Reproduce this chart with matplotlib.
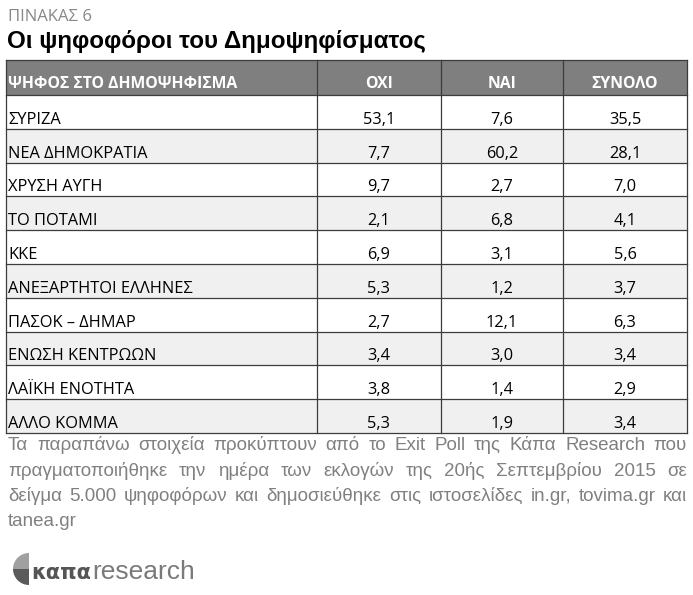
import matplotlib
matplotlib.use("Agg")
import matplotlib.pyplot as plt
from matplotlib.patches import Rectangle, Wedge

parties = ["ΣΥΡΙΖΑ", "ΝΕΑ ΔΗΜΟΚΡΑΤΙΑ", "ΧΡΥΣΗ ΑΥΓΗ", "ΤΟ ΠΟΤΑΜΙ", "ΚΚΕ",
           "ΑΝΕΞΑΡΤΗΤΟΙ ΕΛΛΗΝΕΣ", "ΠΑΣΟΚ – ΔΗΜΑΡ", "ΕΝΩΣΗ ΚΕΝΤΡΩΩΝ",
           "ΛΑΪΚΗ ΕΝΟΤΗΤΑ", "ΑΛΛΟ ΚΟΜΜΑ"]
oxi = [53.1, 7.7, 9.7, 2.1, 6.9, 5.3, 2.7, 3.4, 3.8, 5.3]
nai = [7.6, 60.2, 2.7, 6.8, 3.1, 1.2, 12.1, 3.0, 1.4, 1.9]
synolo = [35.5, 28.1, 7.0, 4.1, 5.6, 3.7, 6.3, 3.4, 2.9, 3.4]
headers = ["ΨΗΦΟΣ ΣΤΟ ΔΗΜΟΨΗΦΙΣΜΑ", "ΟΧΙ", "ΝΑΙ", "ΣΥΝΟΛΟ"]

note_lines = [
    "Τα παραπάνω στοιχεία προκύπτουν από το Exit Poll της Κάπα Research που",
    "πραγματοποιήθηκε την ημέρα των εκλογών της 20ής Σεπτεμβρίου 2015 σε",
    "δείγμα 5.000 ψηφοφόρων και δημοσιεύθηκε στις ιστοσελίδες in.gr, tovima.gr και",
    "tanea.gr",
]

W, H = 693, 595
fig = plt.figure(figsize=(W / 100, H / 100), dpi=100)
ax = fig.add_axes([0, 0, 1, 1])
ax.set_xlim(0, W)
ax.set_ylim(H, 0)
ax.axis("off")

TAB = ["Open Sans", "DejaVu Sans"]
ARIAL = ["Liberation Sans", "DejaVu Sans"]
GREY_TXT = "#808080"

# titles
ax.text(8, 21, "ΠΙΝΑΚΑΣ 6", family=TAB, fontsize=12, color="#888888", va="baseline")
ax.text(7, 48, "Οι ψηφοφόροι του Δημοψηφίσματος", family=ARIAL, fontsize=17.4,
        fontweight="bold", color="black", va="baseline")

# table
cols = [6, 317, 441, 563, 687]
top, head_h, row_h = 60, 35, 33.8
line_c = "#3c3c3c"

ax.add_patch(Rectangle((cols[0], top), cols[-1] - cols[0], head_h,
                       facecolor="#7f7f7f", edgecolor="none"))
for j, h in enumerate(headers):
    if j == 0:
        ax.text(8, top + head_h - 7.5, h, family=TAB, fontsize=11.3, fontweight="bold",
                color="white", va="baseline", ha="left")
    else:
        ax.text((cols[j] + cols[j + 1]) / 2, top + head_h - 7.5, h, family=TAB,
                fontsize=11.3, fontweight="bold", color="white", va="baseline", ha="center")

y0 = top + head_h
for i, p in enumerate(parties):
    ry = y0 + i * row_h
    fc = "#f0f0f0" if i % 2 == 1 else "white"
    ax.add_patch(Rectangle((cols[0], ry), cols[-1] - cols[0], row_h,
                           facecolor=fc, edgecolor="none"))
    base = ry + row_h - 5
    ax.text(8, base, p, family=TAB, fontsize=11.8, color="black", va="baseline")
    for j, v in enumerate([oxi[i], nai[i], synolo[i]], start=1):
        ax.text((cols[j] + cols[j + 1]) / 2, base, f"{v:.1f}".replace(".", ","),
                family=TAB, fontsize=11.8, color="black", va="baseline", ha="center")

bottom = y0 + len(parties) * row_h
for k in range(len(parties) + 1):
    yy = y0 + k * row_h
    ax.plot([cols[0], cols[-1]], [yy, yy], color=line_c, lw=0.9)
ax.plot([cols[0], cols[-1]], [top, top], color=line_c, lw=0.9)
for x in cols:
    ax.plot([x, x], [top, bottom], color=line_c, lw=0.9)

# justified footnote
renderer = fig.canvas.get_renderer()
left, right = 8, 687
for n, line in enumerate(note_lines):
    yb = 450 + n * 25.5
    words = line.split(" ")
    if n == len(note_lines) - 1:
        ax.text(left, yb, line, family=ARIAL, fontsize=13.5, color=GREY_TXT, va="baseline")
        continue
    arts = [ax.text(0, yb, w, family=ARIAL, fontsize=13.5, color=GREY_TXT, va="baseline")
            for w in words]
    widths = [a.get_window_extent(renderer).width for a in arts]
    gap = (right - left - sum(widths)) / (len(words) - 1)
    x = left
    for a, w in zip(arts, widths):
        a.set_x(x)
        x += w + gap

# logo
ax.add_patch(Wedge((29, 569), 16, 90, 180, facecolor="#5a5a5a", edgecolor="none"))
ax.add_patch(Wedge((29, 569), 16, 180, 270, facecolor="#a0a0a0", edgecolor="none"))
t = ax.text(31, 579, "καπα", family=["DejaVu Sans"], fontsize=15,
            fontweight="bold", color="#555555", va="baseline")
ext = t.get_window_extent(renderer)
ax.text(31 + ext.width + 1, 579, "research", family=ARIAL,
        fontsize=19, color="#7a7a7a", va="baseline")

fig.savefig("out.png", dpi=100)
